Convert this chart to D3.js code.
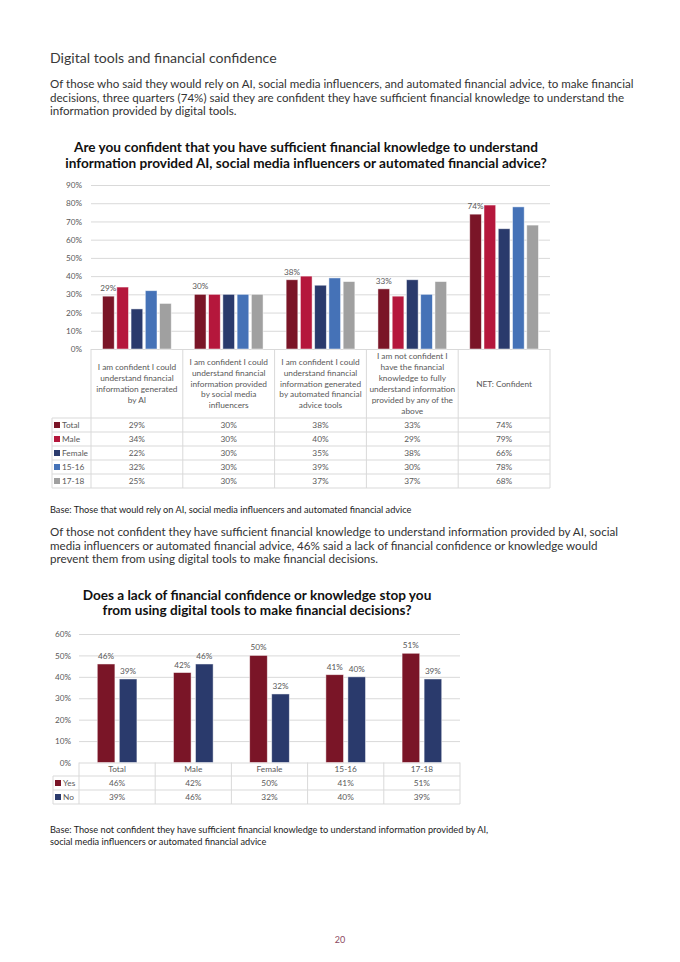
<!DOCTYPE html>
<html>
<head>
<meta charset="utf-8">
<script src="https://cdn.jsdelivr.net/npm/d3@7"></script>
<style>
  body { margin: 0; background: #fff; }
  svg text { font-family: Lato, "Open Sans", sans-serif; }
</style>
</head>
<body>
<svg id="page"></svg>
<script>
// ---- chart 1 data ----
const questions = [
  ['I am confident I could', 'understand financial', 'information generated', 'by AI'],
  ['I am confident I could', 'understand financial', 'information provided', 'by social media', 'influencers'],
  ['I am confident I could', 'understand financial', 'information generated', 'by automated financial', 'advice tools'],
  ['I am not confident I', 'have the financial', 'knowledge to fully', 'understand information', 'provided by any of the', 'above'],
  ['NET: Confident']
];
const groups = ['Total', 'Male', 'Female', '15-16', '17-18'];
const totalVals = [29, 30, 38, 33, 74];
const maleVals = [34, 30, 40, 29, 79];
const femaleVals = [22, 30, 35, 38, 66];
const age1516Vals = [32, 30, 39, 30, 78];
const age1718Vals = [25, 30, 37, 37, 68];
const ticks1 = [0, 10, 20, 30, 40, 50, 60, 70, 80, 90];

// ---- chart 2 data ----
const groups2 = ['Total', 'Male', 'Female', '15-16', '17-18'];
const answers = ['Yes', 'No'];
const yesVals = [46, 42, 50, 41, 51];
const noVals = [39, 46, 32, 40, 39];
const ticks2 = [0, 10, 20, 30, 40, 50, 60];

const colors1 = ['#7a1527', '#b5173c', '#2a3a6c', '#4572b7', '#a0a0a0'];
const colors2 = ['#7a1527', '#2a3a6c'];
const gridColor = '#d9d9d9';
const axisText = '#595959';

const W = 680, H = 962;
const svg = d3.select('#page').attr('width', W).attr('height', H);

//body text helper
function lines(arr, x, y0, step, size, fill, anchor, weight){
  svg.append('g').selectAll('text')
    .data(arr)
    .enter().append('text')
    .attr('x', x)
    .attr('y', (d, i) => y0 + i * step)
    .attr('text-anchor', anchor || 'start')
    .style('font-size', size + 'px')
    .style('font-weight', weight || 400)
    .style('fill', fill)
    .text(d => d);
}

lines(['Digital tools and financial confidence'], 50, 63, 0, 14.1, '#3a3a3a');
lines([
  'Of those who said they would rely on AI, social media influencers, and automated financial advice, to make financial',
  'decisions, three quarters (74%) said they are confident they have sufficient financial knowledge to understand the',
  'information provided by digital tools.'
], 50, 88, 13.6, 11.6, '#333');
lines([
  'Are you confident that you have sufficient financial knowledge to understand',
  'information provided AI, social media influencers or automated financial advice?'
], 306, 152, 16, 13.6, '#111', 'middle', 700);
lines(['Base: Those that would rely on AI, social media influencers and automated financial advice'], 50, 513, 0, 9.2, '#222');
lines([
  'Of those not confident they have sufficient financial knowledge to understand information provided by AI, social',
  'media influencers or automated financial advice, 46% said a lack of financial confidence or knowledge would',
  'prevent them from using digital tools to make financial decisions.'
], 50, 536, 13.6, 11.6, '#333');
lines([
  'Does a lack of financial confidence or knowledge stop you',
  'from using digital tools to make financial decisions?'
], 257, 600, 15, 13.6, '#111', 'middle', 700);
lines([
  'Base: Those not confident they have sufficient financial knowledge to understand information provided by AI,',
  'social media influencers or automated financial advice'
], 50, 833, 11.5, 9.2, '#222');
lines(['20'], 340, 943, 0, 9, '#8c4a62', 'middle');

//generic grouped bar chart with data table underneath
function drawChart(opt){
  const g = svg.append('g');
  const x = d3.scaleBand().domain(opt.cats.map((d, i) => i)).range([opt.left, opt.right]);
  const xs = d3.scaleBand().domain(opt.series).range([0, x.bandwidth()])
    .paddingInner(opt.pi).paddingOuter(opt.po);
  const y = d3.scaleLinear().domain([0, opt.max]).range([opt.bottom, opt.top]);

  //grid + tick labels
  const yAxis = d3.axisLeft(y)
    .tickValues(opt.ticks)
    .tickSize(-(opt.right - opt.left))
    .tickPadding(opt.tickPad)
    .tickFormat(d => d + '%');
  const ax = g.append('g')
    .attr('transform', 'translate(' + opt.left + ',0)')
    .call(yAxis);
  ax.select('.domain').remove();
  ax.selectAll('line').attr('stroke', gridColor).attr('stroke-width', 1);
  ax.selectAll('text').style('font-size', '8.2px').style('fill', axisText)
    .style('font-family', 'Lato, sans-serif');

  //bars
  const rows = opt.series.map((s, si) => opt.values[si].map((v, ci) => ({s: s, si: si, ci: ci, v: v})));
  const flat = rows.flat();
  g.selectAll('.bar')
    .data(flat)
    .enter().append('rect')
    .attr('class', 'bar')
    .attr('x', d => x(d.ci) + xs(d.s))
    .attr('width', xs.bandwidth())
    .attr('y', d => y(d.v))
    .attr('height', d => y(0) - y(d.v))
    .style('fill', d => opt.colors[d.si])
    .style('stroke', '#fff')
    .style('stroke-opacity', 0.6)
    .style('stroke-width', 0.8);

  //value labels
  g.selectAll('.lbl')
    .data(flat.filter(d => opt.labelled.includes(d.si)))
    .enter().append('text')
    .attr('x', d => x(d.ci) + xs(d.s) + xs.bandwidth() / 2)
    .attr('y', d => y(d.v) - 5)
    .attr('text-anchor', 'middle')
    .style('font-size', '8.2px')
    .style('fill', axisText)
    .text(d => d.v + '%');

  //table
  const t = g.append('g');
  const tableBottom = opt.headBottom + opt.rowH * opt.series.length;
  const vlines = x.domain().map(i => x(i)).concat([opt.right]);
  t.selectAll('.vl')
    .data(vlines)
    .enter().append('line')
    .attr('x1', d => d).attr('x2', d => d)
    .attr('y1', opt.bottom).attr('y2', tableBottom)
    .attr('stroke', gridColor);
  const hl = d3.range(opt.series.length + 1).map(i => opt.headBottom + i * opt.rowH);
  t.selectAll('.hl')
    .data(hl)
    .enter().append('line')
    .attr('x1', opt.tableLeft).attr('x2', opt.right)
    .attr('y1', d => d).attr('y2', d => d)
    .attr('stroke', gridColor);
  t.append('line')
    .attr('x1', opt.tableLeft).attr('x2', opt.tableLeft)
    .attr('y1', opt.headBottom).attr('y2', tableBottom)
    .attr('stroke', gridColor);

  //header cells
  const headMid = (opt.bottom + opt.headBottom) / 2;
  opt.cats.forEach((c, ci) => {
    const ls = Array.isArray(c) ? c : [c];
    t.append('g').selectAll('text')
      .data(ls)
      .enter().append('text')
      .attr('x', x(ci) + x.bandwidth() / 2)
      .attr('y', (d, i) => headMid + (i - (ls.length - 1) / 2) * opt.headStep + 3)
      .attr('text-anchor', 'middle')
      .style('font-size', '8.3px')
      .style('fill', axisText)
      .text(d => d);
  });

  //row labels with legend keys
  const rl = t.selectAll('.rl')
    .data(opt.series)
    .enter().append('g')
    .attr('transform', (d, i) => 'translate(' + (opt.tableLeft + 2) + ',' + (opt.headBottom + i * opt.rowH + opt.rowH / 2) + ')');
  rl.append('rect')
    .attr('x', 0).attr('y', -3).attr('width', 6).attr('height', 6)
    .style('fill', (d, i) => opt.colors[i]);
  rl.append('text')
    .attr('x', 8).attr('y', 3)
    .style('font-size', '8.3px')
    .style('fill', axisText)
    .text(d => d);

  //cell values
  t.selectAll('.cell')
    .data(flat)
    .enter().append('text')
    .attr('x', d => x(d.ci) + x.bandwidth() / 2)
    .attr('y', d => opt.headBottom + d.si * opt.rowH + opt.rowH / 2 + 3)
    .attr('text-anchor', 'middle')
    .style('font-size', '8.3px')
    .style('fill', axisText)
    .text(d => d.v + '%');
}

drawChart({
  cats: questions, series: groups,
  values: [totalVals, maleVals, femaleVals, age1516Vals, age1718Vals],
  colors: colors1, labelled: [0],
  left: 91, right: 550, top: 185, bottom: 349, max: 90, ticks: ticks1, tickPad: 9,
  pi: 0.18, po: 0.81,
  tableLeft: 52, headBottom: 418, rowH: 14, headStep: 10.9
});

drawChart({
  cats: groups2, series: answers,
  values: [yesVals, noVals],
  colors: colors2, labelled: [0, 1],
  left: 79, right: 460, top: 634, bottom: 762.5, max: 60, ticks: ticks2, tickPad: 8,
  pi: 0.2, po: 0.83,
  tableLeft: 53, headBottom: 776, rowH: 14, headStep: 10
});
</script>
</body>
</html>
